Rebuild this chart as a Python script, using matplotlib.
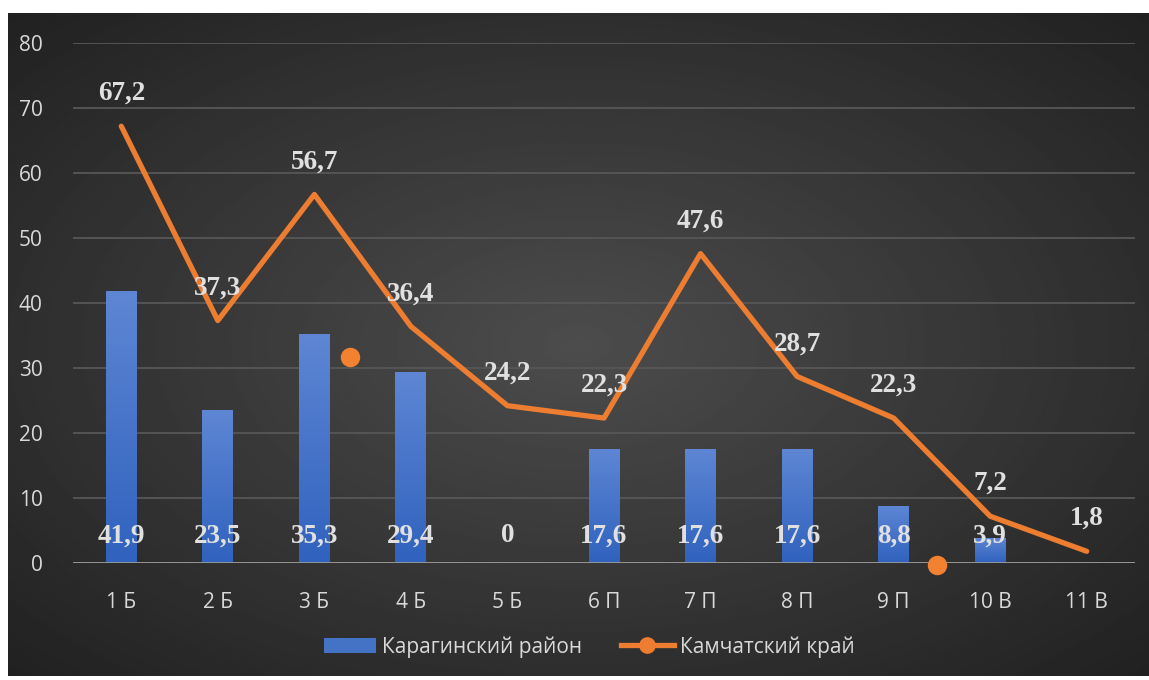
import matplotlib.pyplot as plt
import numpy as np
from matplotlib.colors import LinearSegmentedColormap
from matplotlib.lines import Line2D
from matplotlib.patches import Patch

categories = ["1 Б", "2 Б", "3 Б", "4 Б", "5 Б", "6 П", "7 П", "8 П", "9 П", "10 В", "11 В"]
karaginsky = [41.9, 23.5, 35.3, 29.4, 0, 17.6, 17.6, 17.6, 8.8, 3.9, np.nan]
kamchatka = [67.2, 37.3, 56.7, 36.4, 24.2, 22.3, 47.6, 28.7, 22.3, 7.2, 1.8]
# два отдельных маркера, оставшихся на диаграмме
stray_x = [2.37, 8.45]
stray_y = [31.7, -0.3]

def fmt(v):
    return f"{v:g}".replace(".", ",")

fig = plt.figure(figsize=(11.49, 6.8), dpi=100)
fig.patch.set_facecolor("white")

# тёмный фон с радиальным градиентом
bg = fig.add_axes([8 / 1149, 4 / 680, 1141 / 1149, 663 / 680])
yy, xx = np.mgrid[0:1:300j, 0:1:500j]
r = np.sqrt(((xx - 0.5) / 0.75) ** 2 + ((yy - 0.5) / 0.75) ** 2)
shade = np.clip(0.30 - 0.17 * r / r.max(), 0, 1)
bg.imshow(shade, cmap="gray", vmin=0, vmax=1, aspect="auto", extent=[0, 1, 0, 1])
bg.set_axis_off()

ax = fig.add_axes([73 / 1149, (680 - 563) / 680, 1062 / 1149, 520 / 680])
ax.patch.set_alpha(0)
x = np.arange(len(categories))

bars = ax.bar(x, karaginsky, width=0.32, color="#4472C4", zorder=2)
grad = np.linspace(0, 1, 100).reshape(-1, 1)
cmap = LinearSegmentedColormap.from_list("g", ["#5E86D4", "#3062BE"])
for b in bars:
    h = b.get_height()
    if not h or np.isnan(h):
        continue
    im = ax.imshow(grad, cmap=cmap, aspect="auto", zorder=2.1, origin="upper",
                   extent=[b.get_x(), b.get_x() + b.get_width(), 0, h])
    im.set_clip_path(b)

ax.plot(x, kamchatka, color="#ED7D31", lw=3.8, solid_capstyle="round",
        solid_joinstyle="round", zorder=3)
ax.plot(stray_x, stray_y, "o", color="#F28130", ms=13, zorder=4, clip_on=False)

lab = dict(color="#E0E0E0", fontsize=19.5, fontweight="bold", family="Liberation Serif",
           ha="center", va="center", textcoords="offset points", zorder=5)
for i, v in enumerate(karaginsky):
    if not np.isnan(v):
        ax.annotate(fmt(v), (i, 0), xytext=(0, 19.5), **lab)
for i, v in enumerate(kamchatka):
    ax.annotate(fmt(v), (i, v), xytext=(0, 23.5), **lab)

ax.set_xlim(-0.5, len(categories) - 0.5)
ax.set_ylim(0, 80)
ax.set_yticks(range(0, 81, 10))
ax.set_xticks(x)
ax.set_xticklabels(categories)
ax.tick_params(length=0, colors="#D9D9D9", labelsize=15)
ax.tick_params(axis="x", pad=21)
ax.tick_params(axis="y", pad=22)
for t in ax.get_xticklabels() + ax.get_yticklabels():
    t.set_family("Open Sans")
ax.grid(axis="y", color="#575757", lw=1.3, zorder=0)
ax.set_axisbelow(True)
for s in ax.spines.values():
    s.set_visible(False)
ax.axhline(0, color="#9A9A9A", lw=2, zorder=2.5)

handles = [Patch(facecolor="#4472C4", label="Карагинский район"),
           Line2D([], [], color="#ED7D31", lw=3.8, marker="o", ms=11, label="Камчатский край")]
leg = fig.legend(handles=handles, loc="center", bbox_to_anchor=(589 / 1149, (680 - 647) / 680),
                 ncol=2, frameon=False, handlelength=2.5, columnspacing=1.9,
                 handletextpad=0.3, prop={"family": "Open Sans", "size": 15})
for t in leg.get_texts():
    t.set_color("#D9D9D9")

fig.savefig("out.png", dpi=100, facecolor="white")
